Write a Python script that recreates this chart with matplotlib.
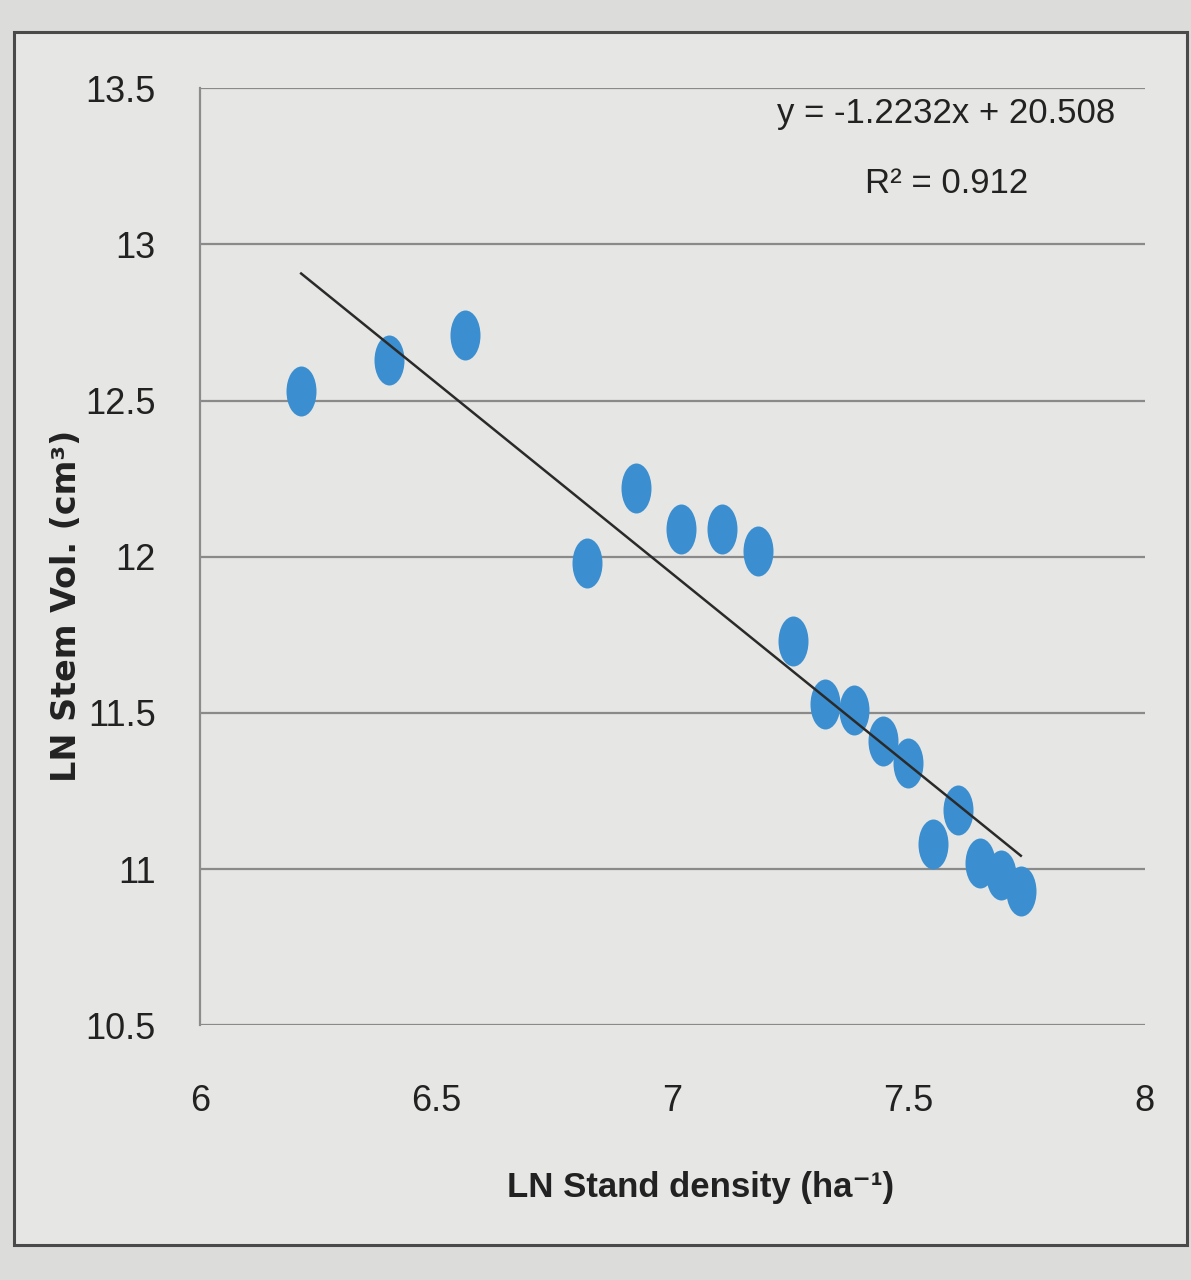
import numpy as np
import matplotlib
matplotlib.use('Agg')
from matplotlib import pyplot as plt
from matplotlib.patches import Rectangle
from matplotlib.path import Path

# LN stand density (ha^-1) vs LN stem volume (cm^3)
ln_density = [6.214, 6.401, 6.561, 6.820, 6.923, 7.018, 7.105, 7.182, 7.256,
              7.323, 7.385, 7.446, 7.500, 7.604, 7.553, 7.652, 7.696, 7.738]
ln_volume = [12.53, 12.63, 12.71, 11.98, 12.22, 12.09, 12.09, 12.02, 11.73,
             11.53, 11.51, 11.41, 11.34, 11.19, 11.08, 11.02, 10.98, 10.93]

slope, intercept, r2 = -1.2232, 20.508, 0.912

xticks = [6, 6.5, 7, 7.5, 8]
yticks = [10.5, 11, 11.5, 12, 12.5, 13, 13.5]

narrow = ['Liberation Sans Narrow', 'Liberation Sans', 'DejaVu Sans']
plt.rcParams['font.family'] = narrow

bg = '#e6e6e4'
fig = plt.figure(figsize=(11.91, 12.8), dpi=100, facecolor='#dcdcda')
fig.patches.append(Rectangle((0.012, 0.027), 0.985, 0.948, transform=fig.transFigure,
                             facecolor=bg, edgecolor='#4a4a4a', linewidth=2.2, zorder=-1))

ax = fig.add_axes([0.168, 0.199, 0.793, 0.732])
ax.patch.set_alpha(0)

for k, sp in ax.spines.items():
    sp.set_visible(False)
ax.spines['left'].set_visible(True)
ax.spines['left'].set_color('#8c8c8c')
ax.spines['left'].set_linewidth(1.6)

ax.set_xlim(6, 8)
ax.set_ylim(10.5, 13.5)
ax.set_xticks(xticks, [f'{t:g}' for t in xticks])
ax.set_yticks(yticks, [f'{t:g}' for t in yticks])
ax.tick_params(length=0, labelsize=26, colors='#222222')
ax.tick_params(axis='y', pad=32)
ax.tick_params(axis='x', pad=42)

for y in yticks:
    ax.axhline(y, color='#8a8a8a', linewidth=1.6, zorder=1)

# tall elliptical markers
circ = Path.unit_circle()
ell = Path(circ.vertices * np.array([0.6, 1.0]), circ.codes)
ax.plot(ln_density, ln_volume, linestyle='none', marker=ell, markersize=36,
        color='#3b8fd0', markeredgewidth=0, zorder=3)

xs = np.array([min(ln_density), max(ln_density)])
ax.plot(xs, slope * xs + intercept, color='#2a2a2a', linewidth=1.8, zorder=4)

ax.text(0.79, 0.973, f'y = {slope}x + {intercept}', transform=ax.transAxes,
        ha='center', va='center', fontsize=25, color='#222222')
ax.text(0.79, 0.898, f'R² = {r2}', transform=ax.transAxes,
        ha='center', va='center', fontsize=25, color='#222222')

ax.set_xlabel('LN Stand density (ha⁻¹)', fontsize=25, fontweight='bold', color='#222222')
ax.xaxis.set_label_coords(0.53, -0.155)
ax.set_ylabel('LN Stem Vol. (cm³)', fontsize=24, fontweight='bold', family='DejaVu Sans',
              color='#222222')
ax.yaxis.set_label_coords(-0.124, 0.448)

fig.savefig('out.png', dpi=100, facecolor=fig.get_facecolor())
